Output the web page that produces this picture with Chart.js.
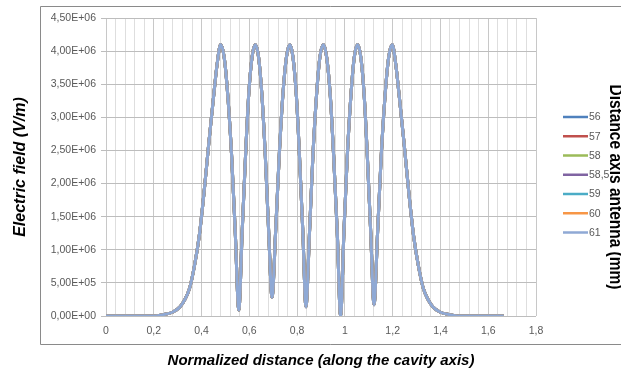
<!DOCTYPE html>
<html>
<head>
<meta charset="utf-8">
<script src="https://cdn.jsdelivr.net/npm/chart.js@4/dist/chart.umd.min.js"></script>
<style>
  html, body { margin: 0; padding: 0; background: #fff; }
</style>
</head>
<body>
<canvas id="chartCampo" width="621" height="372"></canvas>
<script>
// Electric field along the cavity axis
// distance is normalized, field is in units of 1E+06 V/m
const distancia = [
    0, 0.05, 0.10, 0.15, 0.20, 0.24, 0.28, 0.31, 0.33, 0.35, 0.37, 0.39, 0.41, 0.43, 0.45, 0.465,
    0.480, 0.495, 0.510, 0.526, 0.541, 0.556,
    0.570, 0.584, 0.597, 0.611, 0.625,
    0.639, 0.653, 0.667, 0.681, 0.695,
    0.710, 0.725, 0.740, 0.755, 0.770,
    0.783, 0.797, 0.810, 0.824, 0.837,
    0.852, 0.866, 0.881, 0.895, 0.910,
    0.924, 0.939, 0.953, 0.968, 0.982,
    0.996, 1.010, 1.025, 1.039, 1.053,
    1.067, 1.081, 1.094, 1.108, 1.122,
    1.137, 1.152, 1.168, 1.183, 1.198,
    1.213, 1.228, 1.248, 1.268, 1.288, 1.308, 1.328, 1.348, 1.368, 1.398, 1.438, 1.478, 1.55, 1.60, 1.665
];
const campo = [
    0, 0, 0, 0, 0, 0.02, 0.06, 0.14, 0.25, 0.42, 0.75, 1.2, 1.85, 2.6, 3.3, 3.8,
    4.10, 3.90, 3.32, 2.41, 1.27, 0.09,
    1.27, 2.41, 3.32, 3.90, 4.10,
    3.90, 3.32, 2.41, 1.27, 0.28,
    1.27, 2.41, 3.32, 3.90, 4.10,
    3.90, 3.32, 2.41, 1.27, 0.14,
    1.27, 2.41, 3.32, 3.90, 4.10,
    3.90, 3.32, 2.41, 1.27, 0.00,
    1.27, 2.41, 3.32, 3.90, 4.10,
    3.90, 3.32, 2.41, 1.27, 0.17,
    1.27, 2.41, 3.32, 3.90, 4.10,
    3.8, 3.3, 2.6, 1.85, 1.2, 0.75, 0.42, 0.25, 0.14, 0.06, 0.02, 0, 0, 0, 0
];

// antenna positions (mm) - all curves overlap in the figure
const antenas = ['56', '57', '58', '58,5', '59', '60', '61'];
const cores = ['#4f81bd', '#c0504d', '#9bbb59', '#8064a2', '#4bacc6', '#f79646', '#8fa9d5'];

const eixoX = { min: 0, max: 1.8, passo: 0.04, rotulo: 0.2 };
const eixoY = { min: 0, max: 4.5e6, passo: 5e5 };

function formatoCientifico(v) {
    if (Math.abs(v) < 1e-9) return '0,00E+00';
    const exp = Math.floor(Math.log10(Math.abs(v)) + 1e-9);
    const mant = v / Math.pow(10, exp);
    return mant.toFixed(2).replace('.', ',') + 'E+' + String(exp).padStart(2, '0');
}

function ehMajor(v) {
    const r = v / eixoX.rotulo;
    return Math.abs(r - Math.round(r)) < 1e-6;
}

const pontos = distancia.map((d, i) => ({ x: d, y: campo[i] * 1e6 }));

const datasets = antenas.map((nome, i) => ({
    label: nome,
    data: pontos,
    borderColor: cores[i],
    backgroundColor: cores[i],
    borderWidth: 3,
    pointRadius: 0,
    cubicInterpolationMode: 'monotone',
    order: antenas.length - i
}));

// frame, legend and rotated legend title
const moldura = {
    id: 'moldura',
    afterDraw(chart) {
        const ctx = chart.ctx;
        ctx.save();
        ctx.strokeStyle = '#8a8a8a';
        ctx.lineWidth = 1;
        ctx.beginPath();
        ctx.moveTo(621, 6.5);
        ctx.lineTo(40.5, 6.5);
        ctx.lineTo(40.5, 344.5);
        ctx.lineTo(621, 344.5);
        ctx.stroke();

        // legend title, rotated clockwise and cut by the right edge
        ctx.save();
        const titulo = 'Distance axis antenna (mm)';
        ctx.font = 'bold 19px "Liberation Sans", Arial, sans-serif';
        const w = ctx.measureText(titulo).width;
        ctx.translate(610, 187);
        ctx.rotate(Math.PI / 2);
        ctx.scale(205 / w, 1);
        ctx.fillStyle = '#000';
        ctx.textAlign = 'center';
        ctx.textBaseline = 'alphabetic';
        ctx.fillText(titulo, 0, 0);
        ctx.restore();

        // legend
        ctx.font = '10.5px "Liberation Sans", Arial, sans-serif';
        ctx.textBaseline = 'middle';
        ctx.textAlign = 'left';
        chart.data.datasets.forEach((ds, i) => {
            const y = 117 + i * 19.25;
            ctx.strokeStyle = ds.borderColor;
            ctx.lineWidth = 2.5;
            ctx.beginPath();
            ctx.moveTo(563, y);
            ctx.lineTo(588, y);
            ctx.stroke();
            ctx.fillStyle = '#595959';
            ctx.fillText(ds.label, 589, y + 0.5);
        });
        ctx.restore();
    }
};

new Chart(document.getElementById('chartCampo'), {
    type: 'line',
    data: { datasets: datasets },
    options: {
        responsive: false,
        animation: false,
        devicePixelRatio: 1,
        layout: { padding: { top: 18, right: 85, bottom: 0, left: 0 } },
        plugins: {
            legend: { display: false },
            tooltip: { enabled: false }
        },
        scales: {
            x: {
                type: 'linear',
                min: eixoX.min,
                max: eixoX.max,
                afterFit(scale) { scale.height = 56; },
                border: { display: false },
                grid: {
                    color: ctx => ehMajor(ctx.tick.value) ? '#c8c8c8' : '#dedede',
                    drawTicks: false
                },
                ticks: {
                    stepSize: eixoX.passo,
                    autoSkip: false,
                    maxRotation: 0,
                    minRotation: 0,
                    padding: 9,
                    color: '#595959',
                    font: { family: '"Liberation Sans", Arial, sans-serif', size: 10.5 },
                    callback: v => ehMajor(v) ? String(Math.round(v * 10) / 10).replace('.', ',') : ''
                },
                title: {
                    display: true,
                    text: 'Normalized distance (along the cavity axis)',
                    color: '#000',
                    font: { family: '"Liberation Sans", Arial, sans-serif', size: 15, weight: 'bold', style: 'italic' },
                    padding: { top: 0, bottom: 2 }
                }
            },
            y: {
                min: eixoY.min,
                max: eixoY.max,
                afterFit(scale) { scale.width = 106; },
                border: { display: false },
                grid: {
                    color: '#bdbdbd',
                    tickLength: 5
                },
                ticks: {
                    stepSize: eixoY.passo,
                    padding: 5,
                    color: '#595959',
                    font: { family: '"Liberation Sans", Arial, sans-serif', size: 10.5 },
                    callback: v => formatoCientifico(v)
                },
                title: {
                    display: true,
                    text: 'Electric field (V/m)',
                    color: '#000',
                    font: { family: '"Liberation Sans", Arial, sans-serif', size: 16, weight: 'bold', style: 'italic' },
                    padding: { top: 11, bottom: 0 }
                }
            }
        }
    },
    plugins: [moldura]
});
</script>
</body>
</html>
